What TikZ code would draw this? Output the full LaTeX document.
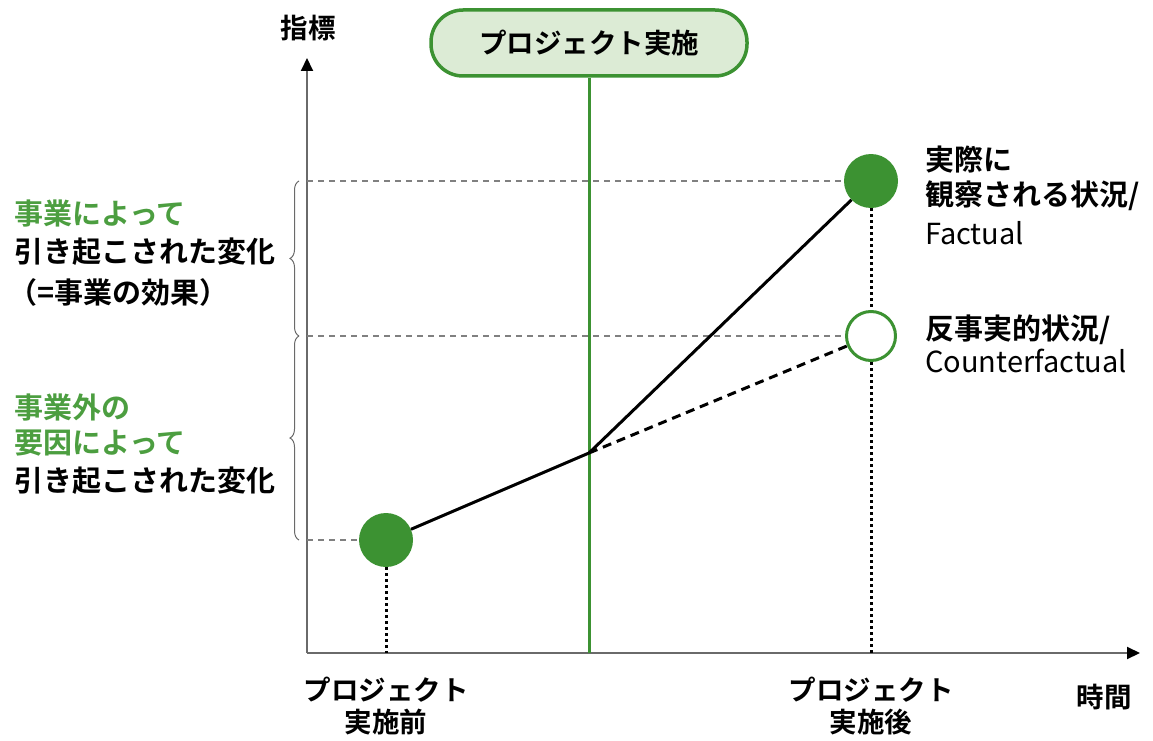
\documentclass[tikz,border=0pt]{standalone}
\usepackage{fontspec}
\setmainfont{Noto Sans CJK JP}[BoldFont={Noto Sans CJK JP Bold}]
\usetikzlibrary{arrows.meta,decorations.pathreplacing}
\definecolor{gdark}{HTML}{3C9232}
\definecolor{gtext}{HTML}{4C9E40}
\definecolor{gfill}{HTML}{DCEBD5}
\definecolor{axisgray}{HTML}{6A6A6A}
\begin{document}
\begin{tikzpicture}[x=1pt,y=-1pt,
  lbl/.style={font=\fontsize{27.5}{30}\selectfont\bfseries, inner sep=0pt},
  lblw/.style={lbl, anchor=west, font=\fontsize{29}{30}\selectfont\bfseries},
  latin/.style={lbl, anchor=west, font=\fontsize{29}{30}\selectfont},
  axisline/.style={draw=axisgray, line width=2pt, -{Triangle[length=13pt,width=12pt,color=black]}},
  guide/.style={draw=gray, line width=1.4pt, dash pattern=on 6pt off 5pt},
  drop/.style={draw=black, line width=3pt, dash pattern=on 3pt off 3pt},
  dot/.style={circle, fill=gdark, minimum size=54pt, inner sep=0pt},
  odot/.style={circle, draw=gdark, fill=white, line width=3pt, minimum size=49pt, inner sep=0pt},
  bracestyle/.style={draw=axisgray, line width=1pt, decorate, decoration={brace, amplitude=9pt}}
]
\useasboundingbox (0,0) rectangle (1153,741);
% axes
\coordinate (O) at (307,653);
\coordinate (ytip) at (307,58);
\coordinate (xtip) at (1140,653);
\draw[axisline] (O) -- (ytip);
\draw[axisline] (O) -- (xtip);
\node[lbl] (ylabel) at (308,28) {指標};
\node[lbl] (xlabel) at (1104,697) {時間};
% project box and line
\node[lbl, draw=gdark, fill=gfill, line width=3.5pt, rounded corners=32pt,
      minimum width=316pt, minimum height=66pt] (proj) at (589,43) {プロジェクト実施};
\coordinate (pbot) at (589,653);
\draw[gdark, line width=3pt] (proj.south) -- (pbot);
% points
\node[dot] (before) at (386,540) {};
\node[dot] (after) at (871,181) {};
\node[odot] (counter) at (871,336) {};
\coordinate (mid) at (589,453);
% guide lines
\coordinate (g1) at (307,181);
\coordinate (g2) at (307,336);
\coordinate (g3) at (307,540);
\draw[guide] (g1) -- (after.west);
\draw[guide] (g2) -- (counter.west);
\draw[guide] (g3) -- (before.west);
% drops
\coordinate (bx) at (386,653);
\coordinate (ax) at (871,653);
\draw[drop] (before.south) -- (bx);
\draw[drop] (after.south) -- (counter.north);
\draw[drop] (counter.south) -- (ax);
% trajectories
\draw[black, line width=3pt] (before) -- (mid) -- (after);
\draw[black, line width=3pt, dash pattern=on 9pt off 6pt] (mid) -- (counter);
% braces
\coordinate (b1) at (299,181);
\coordinate (b2) at (299,336);
\coordinate (b3) at (299,540);
\draw[bracestyle] (b2) -- (b1);
\draw[bracestyle] (b3) -- (b2);
% left texts
\node[lblw, text=gtext] (t1) at (14,214) {事業によって};
\node[lblw] (t2) at (14,252) {引き起こされた変化};
\node[lblw] (t3) at (8,292) {（=事業の効果）};
\node[lblw, text=gtext] (t4) at (14,408) {事業外の};
\node[lblw, text=gtext] (t5) at (14,443) {要因によって};
\node[lblw] (t6) at (14,481) {引き起こされた変化};
% right texts
\node[lblw] (r1) at (925,160) {実際に};
\node[lblw] (r2) at (925,196) {観察される状況/};
\node[latin] (r3) at (925,233) {Factual};
\node[lblw] (r4) at (925,330) {反事実的状況/};
\node[latin] (r5) at (925,361) {Counterfactual};
% bottom texts
\node[lbl] (bb1) at (386,690) {プロジェクト};
\node[lbl] (bb2) at (386,722) {実施前};
\node[lbl] (ab1) at (871,690) {プロジェクト};
\node[lbl] (ab2) at (871,722) {実施後};
\end{tikzpicture}
\end{document}
